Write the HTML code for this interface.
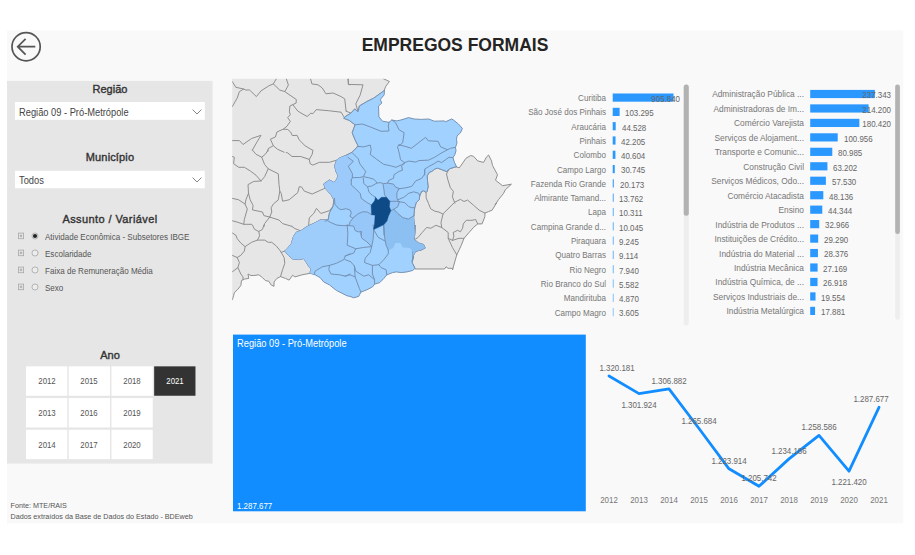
<!DOCTYPE html>
<html><head><meta charset="utf-8"><title>Empregos Formais</title><style>
*{box-sizing:border-box;margin:0;padding:0}
html,body{width:915px;height:555px;overflow:hidden;background:#fff}
body{font-family:"Liberation Sans",sans-serif;position:relative;color:#666}
.abs{position:absolute}
.ttl{position:absolute;left:7px;width:206px;text-align:center;font-weight:400;color:#333;font-size:11px;line-height:14px;white-space:nowrap;-webkit-text-stroke:.38px #333}
.dd{position:absolute;left:15px;width:190px;height:18px;font-size:10px;color:#444;padding-left:4px;white-space:nowrap}
.dd span{display:inline-block;transform:scaleX(.93);transform-origin:left center}
.row{position:absolute;left:45px;font-size:9.2px;line-height:12px;color:#555;white-space:nowrap;transform:scaleX(.876);transform-origin:left center}
.cell{position:absolute;width:41.3px;height:29.4px;font-size:9px;line-height:31.6px;text-align:center;color:#555}
.cell span{display:inline-block;transform:scaleX(.87)}
.cell.sel{color:#fff}
.lbl{position:absolute;text-align:right;font-size:8.8px;line-height:10px;color:#777;white-space:nowrap;transform:scaleX(.92);transform-origin:right center}
.val{position:absolute;font-size:8.8px;line-height:10px;color:#666;white-space:nowrap;transform:scaleX(.9);transform-origin:left center}
.val.r{transform-origin:right center}
.val.c{transform-origin:center center}
.foot{position:absolute;left:10.6px;font-size:7.2px;line-height:10px;color:#555;white-space:nowrap}
</style></head><body>
<svg class="abs" style="left:0;top:0" width="915" height="555" viewBox="0 0 915 555"><rect x="7.00" y="30.40" width="896.40" height="492.90" fill="#f9f9f9"/><rect x="7.00" y="80.90" width="205.60" height="382.70" fill="#e6e6e6"/><rect x="15.00" y="102.00" width="189.80" height="17.80" fill="#fff"/><rect x="15.00" y="170.80" width="189.80" height="17.50" fill="#fff"/><rect x="26.00" y="366.35" width="41.30" height="29.40" fill="#fff"/><rect x="68.72" y="366.35" width="41.30" height="29.40" fill="#fff"/><rect x="111.44" y="366.35" width="41.30" height="29.40" fill="#fff"/><rect x="154.16" y="366.35" width="41.30" height="29.40" fill="#333333"/><rect x="26.00" y="398.05" width="41.30" height="29.40" fill="#fff"/><rect x="68.72" y="398.05" width="41.30" height="29.40" fill="#fff"/><rect x="111.44" y="398.05" width="41.30" height="29.40" fill="#fff"/><rect x="26.00" y="429.75" width="41.30" height="29.40" fill="#fff"/><rect x="68.72" y="429.75" width="41.30" height="29.40" fill="#fff"/><rect x="111.44" y="429.75" width="41.30" height="29.40" fill="#fff"/><rect x="612.70" y="93.50" width="60.80" height="8.20" fill="#2b98ff"/><rect x="612.70" y="107.80" width="6.93" height="8.20" fill="#2b98ff"/><rect x="612.70" y="122.10" width="2.99" height="8.20" fill="#2b98ff"/><rect x="612.70" y="136.40" width="2.83" height="8.20" fill="#2b98ff"/><rect x="612.70" y="150.70" width="2.73" height="8.20" fill="#2b98ff"/><rect x="612.70" y="165.00" width="2.06" height="8.20" fill="#2b98ff"/><rect x="612.70" y="179.30" width="1.20" height="8.20" fill="#41a3fe"/><rect x="612.70" y="193.60" width="1.20" height="8.20" fill="#65b3fd"/><rect x="612.70" y="207.90" width="1.20" height="8.20" fill="#78bcfd"/><rect x="612.70" y="222.20" width="1.20" height="8.20" fill="#79bdfd"/><rect x="612.70" y="236.50" width="1.20" height="8.20" fill="#7ebffd"/><rect x="612.70" y="250.80" width="1.20" height="8.20" fill="#7ebffd"/><rect x="612.70" y="265.10" width="1.20" height="8.20" fill="#85c2fc"/><rect x="612.70" y="279.40" width="1.20" height="8.20" fill="#92c9fc"/><rect x="612.70" y="293.70" width="1.20" height="8.20" fill="#96cafc"/><rect x="612.70" y="308.00" width="1.20" height="8.20" fill="#9dcefc"/><rect x="683.70" y="84.60" width="5.10" height="241.00" fill="#eeeeee" rx="2.5"/><rect x="683.70" y="84.60" width="5.10" height="131.20" fill="#b2b2b2" rx="2.5"/><rect x="810.20" y="89.90" width="64.70" height="8.20" fill="#2b98ff"/><rect x="810.20" y="104.36" width="58.39" height="8.20" fill="#2b98ff"/><rect x="810.20" y="118.82" width="49.18" height="8.20" fill="#2b98ff"/><rect x="810.20" y="133.28" width="27.52" height="8.20" fill="#2b98ff"/><rect x="810.20" y="147.74" width="22.08" height="8.20" fill="#2b98ff"/><rect x="810.20" y="162.20" width="17.23" height="8.20" fill="#2b98ff"/><rect x="810.20" y="176.66" width="15.68" height="8.20" fill="#2b98ff"/><rect x="810.20" y="191.12" width="13.12" height="8.20" fill="#2b98ff"/><rect x="810.20" y="205.58" width="12.09" height="8.20" fill="#2b98ff"/><rect x="810.20" y="220.04" width="8.99" height="8.20" fill="#2b98ff"/><rect x="810.20" y="234.50" width="7.98" height="8.20" fill="#2b98ff"/><rect x="810.20" y="248.96" width="7.74" height="8.20" fill="#2b98ff"/><rect x="810.20" y="263.42" width="7.41" height="8.20" fill="#2b98ff"/><rect x="810.20" y="277.88" width="7.34" height="8.20" fill="#2b98ff"/><rect x="810.20" y="292.34" width="5.33" height="8.20" fill="#2b98ff"/><rect x="810.20" y="306.80" width="4.87" height="8.20" fill="#2b98ff"/><rect x="895.20" y="84.40" width="4.70" height="235.40" fill="#eeeeee" rx="2.3"/><rect x="895.20" y="84.40" width="4.70" height="149.60" fill="#b2b2b2" rx="2.3"/><rect x="233.00" y="334.60" width="352.80" height="176.70" fill="#118dff"/></svg>
<svg class="abs" style="left:8px;top:28px" width="36" height="36" viewBox="0 0 36 36"><circle cx="18.1" cy="18.7" r="14.1" fill="none" stroke="#555" stroke-width="1.7"/><path d="M27.3 18.7H9.7M17.6 10.8L9.7 18.7L17.6 26.6" fill="none" stroke="#555" stroke-width="1.7"/></svg>
<div class="abs" style="left:255px;top:34px;width:400px;text-align:center;font-weight:700;font-size:17.5px;line-height:22px;color:#252423;white-space:nowrap">EMPREGOS FORMAIS</div>
<div class="ttl" style="top:81.9px">Região</div>
<div class="dd" style="top:102px;line-height:22.6px"><span>Região 09 - Pró-Metrópole</span></div>
<div class="ttl" style="top:149.8px;letter-spacing:.15px">Município</div>
<div class="dd" style="top:170.5px;line-height:20.8px"><span>Todos</span></div>
<svg class="abs" style="left:190.6px;top:107.8px" width="12" height="8" viewBox="0 0 12 8"><path d="M1.6 1.6L6 6L10.4 1.6" fill="none" stroke="#777" stroke-width="0.9"/></svg>
<svg class="abs" style="left:190.6px;top:176px" width="12" height="8" viewBox="0 0 12 8"><path d="M1.6 1.6L6 6L10.4 1.6" fill="none" stroke="#777" stroke-width="0.9"/></svg>
<div class="ttl" style="top:212px;letter-spacing:.41px">Assunto / Variável</div>
<svg class="abs" style="left:17px;top:232.2px" width="8" height="8" viewBox="0 0 8 8"><rect x="1.4" y="1.1" width="5.2" height="5.6" fill="none" stroke="#a8a8a8" stroke-width="0.8"/><path d="M2.7 3.9H5.3M4 2.6V5.2" stroke="#999" stroke-width="0.8"/></svg>
<svg class="abs" style="left:30px;top:231.2px" width="10" height="10" viewBox="0 0 10 10"><circle cx="5" cy="5" r="3.05" fill="#ececec" stroke="#a6a6a6" stroke-width="0.8"/><circle cx="5" cy="5" r="2.1" fill="#222"/></svg>
<div class="row" style="top:231.3px">Atividade Econômica - Subsetores IBGE</div>
<svg class="abs" style="left:17px;top:249.2px" width="8" height="8" viewBox="0 0 8 8"><rect x="1.4" y="1.1" width="5.2" height="5.6" fill="none" stroke="#a8a8a8" stroke-width="0.8"/><path d="M2.7 3.9H5.3M4 2.6V5.2" stroke="#999" stroke-width="0.8"/></svg>
<svg class="abs" style="left:30px;top:248.2px" width="10" height="10" viewBox="0 0 10 10"><circle cx="5" cy="5" r="3.05" fill="#ececec" stroke="#a6a6a6" stroke-width="0.8"/></svg>
<div class="row" style="top:248.3px">Escolaridade</div>
<svg class="abs" style="left:17px;top:266.2px" width="8" height="8" viewBox="0 0 8 8"><rect x="1.4" y="1.1" width="5.2" height="5.6" fill="none" stroke="#a8a8a8" stroke-width="0.8"/><path d="M2.7 3.9H5.3M4 2.6V5.2" stroke="#999" stroke-width="0.8"/></svg>
<svg class="abs" style="left:30px;top:265.2px" width="10" height="10" viewBox="0 0 10 10"><circle cx="5" cy="5" r="3.05" fill="#ececec" stroke="#a6a6a6" stroke-width="0.8"/></svg>
<div class="row" style="top:265.3px">Faixa de Remuneração Média</div>
<svg class="abs" style="left:17px;top:283.2px" width="8" height="8" viewBox="0 0 8 8"><rect x="1.4" y="1.1" width="5.2" height="5.6" fill="none" stroke="#a8a8a8" stroke-width="0.8"/><path d="M2.7 3.9H5.3M4 2.6V5.2" stroke="#999" stroke-width="0.8"/></svg>
<svg class="abs" style="left:30px;top:282.2px" width="10" height="10" viewBox="0 0 10 10"><circle cx="5" cy="5" r="3.05" fill="#ececec" stroke="#a6a6a6" stroke-width="0.8"/></svg>
<div class="row" style="top:282.3px">Sexo</div>
<div class="ttl" style="top:348px">Ano</div>
<div class="cell" style="left:26.00px;top:366.35px"><span>2012</span></div>
<div class="cell" style="left:68.72px;top:366.35px"><span>2015</span></div>
<div class="cell" style="left:111.44px;top:366.35px"><span>2018</span></div>
<div class="cell sel" style="left:154.16px;top:366.35px"><span>2021</span></div>
<div class="cell" style="left:26.00px;top:398.05px"><span>2013</span></div>
<div class="cell" style="left:68.72px;top:398.05px"><span>2016</span></div>
<div class="cell" style="left:111.44px;top:398.05px"><span>2019</span></div>
<div class="cell" style="left:26.00px;top:429.75px"><span>2014</span></div>
<div class="cell" style="left:68.72px;top:429.75px"><span>2017</span></div>
<div class="cell" style="left:111.44px;top:429.75px"><span>2020</span></div>
<div class="foot" style="top:500.6px">Fonte: MTE/RAIS</div>
<div class="foot" style="top:511.6px">Dados extraídos da Base de Dados do Estado - BDEweb</div>
<svg class="abs" style="left:0;top:0" width="915" height="555" viewBox="0 0 915 555">
<defs><clipPath id="mc"><rect x="232.2" y="78.7" width="290" height="230"/></clipPath></defs><g clip-path="url(#mc)" stroke-linejoin="round" stroke-linecap="round">
<polygon points="229.2,75.7 383.2,75.7 383.2,78.6 389.4,81.5 385.8,86.3 384.2,90.6 373.8,98.1 366.6,101.7 359.4,106.0 358.0,111.8 354.8,108.9 350.8,113.2 345.0,116.8 343.8,118.3 349.3,120.4 355.1,124.8 352.2,132.7 355.1,139.9 358.0,145.7 356.4,147.9 351.9,152.4 345.9,155.4 340.0,157.8 336.7,160.1 334.6,165.9 336.0,171.6 338.2,176.0 336.0,180.3 333.9,182.5 329.5,180.0 323.8,183.9 325.2,188.2 331.0,194.7 333.9,199.8 333.1,206.3 329.5,212.7 328.1,220.0 320.1,220.0 315.1,222.8 308.6,225.7 305.0,227.9 300.7,230.8 296.3,232.2 293.5,236.5 291.3,243.8 287.7,248.1 284.8,251.0 288.4,255.3 292.7,258.9 299.2,259.6 303.6,258.5 306.4,262.5 308.6,266.1 310.8,268.3 310.1,273.3 302.1,274.8 294.9,276.9 292.7,275.2 289.1,280.1 285.5,278.4 280.5,276.6 276.9,278.4 274.0,282.0 274.0,286.3 271.1,284.9 268.9,281.3 265.3,280.5 262.5,277.6 258.8,274.8 253.8,275.5 250.9,275.5 248.0,274.0 248.8,278.4 244.4,279.1 241.5,280.5 240.8,285.6 237.9,289.2 234.3,292.8 233.6,295.7 232.2,300.0 229.2,300.5" fill="#e6e6e6" stroke="#8f8f8f" stroke-width="1"/>
<polygon points="456.4,166.9 459.3,167.8 462.8,162.9 465.8,158.4 470.7,155.5 473.7,156.4 477.7,160.9 483.6,162.4 486.6,156.9 488.6,155.0 491.5,160.9 492.5,165.4 497.5,174.8 495.5,180.2 502.5,185.7 511.4,184.2 505.4,189.7 503.4,193.6 498.5,199.6 495.0,205.0 496.5,203.0 492.1,210.2 488.5,211.6 484.9,213.1 484.9,216.7 482.0,223.9 477.7,223.9 473.4,227.5 469.1,232.5 464.0,238.3 461.2,245.5 456.8,254.8 454.7,262.0 452.5,270.0 452.5,268.3 448.1,268.3 446.0,266.8 444.5,269.0 415.0,269.0 415.0,268.3 412.1,262.5 413.5,256.7 412.8,251.7 420.0,250.2 425.1,248.1 423.6,244.5 418.6,243.0 414.2,239.4 415.0,232.2 415.0,225.0 412.2,262.0 412.9,256.3 415.8,251.2 421.5,249.8 425.1,247.6 422.2,244.8 416.5,242.6 414.3,239.7 414.3,231.8 414.3,224.6 413.6,217.4 414.7,207.7 416.2,202.7 419.2,199.7 419.7,195.8 421.7,191.3 423.7,190.8 426.1,192.3 427.1,191.3 428.1,186.9 427.6,181.9 427.1,175.9 429.6,172.0 431.7,171.5 434.7,169.1 437.6,168.1 441.6,169.6 446.5,171.5 450.0,168.6 456.5,166.6" fill="#e6e6e6" stroke="#8f8f8f" stroke-width="1"/>
<g fill="none" stroke="#8f8f8f" stroke-width="1">
<polyline points="232.2,81.5 235.8,87.3 243.7,89.0 245.9,90.1 249.5,89.9 256.4,96.6 261.0,90.9 268.9,85.8 273.3,83.9 276.4,78.6"/>
<polyline points="243.7,89.0 239.4,91.6 237.2,98.1 232.2,106.7"/>
<polyline points="273.3,83.9 279.8,90.1 284.8,91.6 288.4,85.1 286.3,78.6"/>
<polyline points="284.8,91.6 292.0,96.6 296.3,99.5 296.1,103.1 292.7,104.6 289.9,106.0 289.4,111.8 290.3,114.7 287.7,117.6 290.3,121.4 287.0,126.2 283.4,129.1 276.9,132.0 275.4,137.0 270.4,139.2 273.3,145.7 277.6,149.3 284.1,152.2"/>
<polyline points="292.7,104.6 297.8,111.1 302.1,113.7 307.2,116.5 310.8,113.2 312.9,113.7 316.3,109.6 329.5,110.8 341.1,112.2 343.9,116.8"/>
<polyline points="310.5,78.6 311.9,83.9 318.0,84.8 322.3,88.0 325.9,93.8 333.1,93.0 341.1,96.6 344.7,98.8 346.1,111.1"/>
<polyline points="346.1,111.1 350.0,112.8 350.8,113.2"/>
<polyline points="283.4,129.1 287.7,129.5 290.6,132.0 292.3,135.6 297.1,135.3 299.2,139.9 305.0,145.7 312.2,150.0"/>
<polyline points="232.2,140.6 239.4,140.6 243.0,144.5 251.6,138.5 261.0,135.3 257.4,141.3 252.4,150.0"/>
<polyline points="273.3,145.7 268.2,148.6 267.8,151.4"/>
<polyline points="348.3,78.6 348.3,84.4 350.0,84.8"/>
<polyline points="347.9,78.6 348.6,84.4 363.0,84.8 360.1,95.2 355.8,103.8 358.0,111.8"/>
<polyline points="252.4,150.0 256.0,154.3 261.7,157.2 265.3,154.3 268.2,150.0"/>
<polyline points="261.7,157.2 264.6,164.4 268.2,168.8 278.3,173.8 279.0,184.6 279.8,191.1 278.3,199.8 273.3,204.1 271.1,207.7 271.8,212.0 269.7,217.1"/>
<polyline points="268.2,168.8 264.6,176.7 261.0,181.0 253.8,181.4 248.0,184.6 248.5,193.3 250.2,199.8 253.1,205.5 252.4,209.9 262.5,212.0 263.9,215.6 269.7,217.1"/>
<polyline points="232.2,156.5 234.3,157.2 233.6,163.7 238.7,167.3 244.4,167.3 250.2,170.9 256.0,175.2 261.0,181.0"/>
<polyline points="248.5,193.3 245.9,199.8 245.1,204.1 247.3,209.1 244.4,219.2 243.7,224.3"/>
<polyline points="232.2,198.3 238.7,199.8 245.1,204.1"/>
<polyline points="232.2,220.7 237.2,222.1 243.7,224.3 251.6,224.3"/>
<polyline points="269.7,217.1 264.6,223.6 264.0,226.4"/>
<polyline points="269.7,217.1 279.0,220.0 282.6,223.6 292.0,226.4"/>
<polyline points="279.8,191.1 281.2,193.3 282.6,201.2 289.1,199.8 297.8,192.6 299.2,186.8 301.4,186.8 304.3,191.1 312.2,194.0 320.1,190.4 325.2,188.2"/>
<polyline points="286.3,152.6 287.7,152.9 292.0,156.5 300.7,156.5 309.3,159.4 310.1,163.7 312.9,165.1 319.4,162.3 329.5,162.3 336.7,160.1"/>
<polyline points="309.3,159.4 312.2,154.3 312.9,150.0"/>
<polyline points="308.6,225.7 309.3,217.8 313.7,213.5 316.5,208.4 320.9,213.5 329.5,210.6 333.1,206.3"/>
<polyline points="252.4,225.0 254.5,229.3 258.8,231.5 262.5,229.3 263.9,225.0"/>
<polyline points="258.8,231.5 259.6,235.8 257.4,240.1 251.6,242.3 245.1,246.6 240.8,243.0 237.2,238.7 235.8,235.1 232.2,232.9"/>
<polyline points="257.4,240.1 264.6,240.1 268.2,242.3 271.8,242.3 276.2,245.9 279.8,250.2 281.2,252.4 284.8,251.0"/>
<polyline points="281.2,252.4 284.1,257.5 284.8,263.2 282.6,269.7 280.5,276.6"/>
<polyline points="245.1,246.6 244.4,251.0 240.8,255.3 237.2,257.5 232.2,255.3"/>
<polyline points="237.2,257.5 239.4,262.5 237.9,267.6 232.2,271.9"/>
<polyline points="237.9,267.6 240.8,274.0 243.0,276.9 243.0,279.8"/>
<polyline points="292.0,226.4 294.9,228.6 300.7,230.8"/>
<polyline points="454.7,202.2 460.4,199.4 464.0,201.5 467.6,200.1 473.4,205.1 479.2,210.2 484.9,213.1"/>
<polyline points="454.7,202.2 443.1,213.8 441.0,222.4 441.7,227.5 448.2,232.5 448.2,238.3 452.5,240.4 459.0,238.3 464.0,238.3"/>
<polyline points="448.2,238.3 452.5,247.6 456.8,254.8"/>
<polyline points="452.5,240.4 453.9,236.1 453.2,232.5 457.6,230.3 460.4,231.8 462.6,228.2 463.3,223.9 466.2,220.3 472.0,220.3 475.6,219.5 477.7,223.9"/>
<polyline points="441.7,227.5 435.9,225.3 430.9,228.2 426.6,227.5 422.2,232.5 417.9,237.6 414.3,239.7"/>
<polyline points="448.4,170.0 446.5,174.0 447.9,179.9 450.4,187.8 453.4,191.3 452.4,196.8 454.9,203.2"/>
<polyline points="426.1,192.3 426.1,197.8 428.6,203.7 430.6,208.7 434.6,211.1 439.0,212.1 443.0,214.1"/>
<polyline points="446.5,171.5 448.4,170.0"/>
</g>
<polygon points="384.2,90.6 373.8,98.1 366.6,101.7 359.4,106.0 358.0,111.8 354.8,108.9 350.8,113.2 345.0,116.8 343.8,118.3 349.3,120.4 355.1,124.8 352.2,132.7 355.1,139.9 358.0,145.7 356.4,147.9 351.9,152.4 345.9,155.4 340.0,157.8 336.7,160.1 334.6,165.9 336.0,171.6 338.2,176.0 336.0,180.3 333.9,182.5 329.5,180.0 323.8,183.9 325.2,188.2 331.0,194.7 333.9,199.8 333.1,206.3 329.5,212.7 328.1,220.0 320.1,220.0 315.1,222.8 308.6,225.7 305.0,227.9 300.7,230.8 296.3,232.2 293.5,236.5 291.3,243.8 287.7,248.1 284.8,251.0 288.4,255.3 292.7,258.9 299.2,259.6 303.6,258.5 306.4,262.5 308.6,266.1 310.8,268.3 310.1,273.3 315.1,274.8 320.1,277.6 323.8,282.0 329.5,284.9 333.9,288.5 336.7,290.6 341.1,292.8 346.8,295.7 350.0,296.4 353.7,297.8 358.7,296.4 360.9,292.1 366.6,289.9 372.4,287.0 374.6,284.1 379.6,282.7 383.9,278.4 386.8,274.8 392.6,272.6 396.2,271.9 401.3,272.6 407.0,271.9 412.8,270.4 415.0,268.3 412.1,262.5 413.5,256.7 412.8,251.7 420.0,250.2 425.1,248.1 423.6,244.5 418.6,243.0 414.2,239.4 415.0,232.2 415.0,225.0 412.2,262.0 412.9,256.3 415.8,251.2 421.5,249.8 425.1,247.6 422.2,244.8 416.5,242.6 414.3,239.7 414.3,231.8 414.3,224.6 413.6,217.4 414.7,207.7 416.2,202.7 419.2,199.7 419.7,195.8 421.7,191.3 423.7,190.8 426.1,192.3 427.1,191.3 428.1,186.9 427.6,181.9 427.1,175.9 429.6,172.0 431.7,171.5 434.7,169.1 437.6,168.1 441.6,169.6 446.5,171.5 450.0,168.6 456.5,166.6 454.5,162.6 453.0,157.7 455.0,154.2 456.0,150.7 455.5,147.3 457.0,142.8 456.5,139.8 457.0,135.9 460.4,132.9 462.4,128.4 458.4,124.0 453.5,120.0 451.7,119.0 445.2,121.9 444.5,120.9 434.4,121.2 428.7,119.0 421.4,119.4 414.2,119.0 408.5,117.6 402.0,119.7 396.9,120.9 391.9,120.0 389.0,122.3 382.5,121.2 378.9,116.8 378.5,106.0 381.8,103.1 380.3,99.5 383.9,95.2" fill="#a1d1fe" stroke="#7592b4" stroke-width="1"/>
<polygon points="390.9,210.7 388.4,216.2 387.0,221.1 384.0,224.6 383.7,226.6 383.9,227.2 384.7,238.0 386.1,245.2 388.3,250.2 393.3,248.1 395.5,243.0 400.5,243.0 402.7,247.4 409.9,248.1 412.8,251.7 420.0,250.2 425.1,248.1 423.6,244.5 418.6,243.0 414.2,239.4 415.0,232.2 415.0,225.0 412.2,262.0 412.9,256.3 415.8,251.2 421.5,249.8 425.1,247.6 422.2,244.8 416.5,242.6 414.3,239.7 414.2,215.6 408.3,219.1 402.8,217.6 397.9,213.6 393.9,209.2 390.9,210.6" fill="#8dc0f2"/>
<polygon points="328.1,220.0 320.1,220.0 315.1,222.8 308.6,225.7 305.0,227.9 300.7,230.8 296.3,232.2 293.5,236.5 291.3,243.8 287.7,248.1 284.8,251.0 288.4,255.3 292.7,258.9 299.2,259.6 303.6,258.5 306.4,262.5 308.6,266.1 310.8,268.3 310.1,273.3 314.4,274.0 315.1,271.2 322.3,266.8 329.5,265.4 336.7,263.2 343.9,259.6 345.4,256.0 350.0,253.8 345.0,256.0 353.7,253.1 355.8,248.8 347.2,245.2 347.9,233.7 347.2,225.0 348.8,225.6 342.8,225.6 336.9,225.1 330.9,222.6 327.5,220.6 325.0,221.1" fill="#9ecdfc"/>
<polygon points="371.6,214.7 367.6,212.2 363.2,211.7 358.2,213.7 352.8,218.2 349.8,216.2 351.3,213.2 350.3,210.2 346.3,208.7 340.9,209.7 338.4,208.3 334.9,204.3 334.4,198.3 333.9,199.8 331.0,194.7 325.2,188.2 323.8,183.9 329.5,180.0 333.9,182.5 336.0,180.3 338.2,176.0 336.0,171.6 334.6,165.9 336.7,160.1 340.0,157.8 345.9,155.4 347.9,157.3 353.4,161.3 348.4,166.3 352.4,173.7 352.4,177.7 351.1,180.1 351.3,180.0 351.3,185.0 355.7,188.9 360.2,193.4 361.2,198.3 366.6,202.3 371.1,204.8" fill="#9bcafb"/>
<polygon points="371.6,214.7 367.6,212.2 363.2,211.7 358.2,213.7 352.8,218.2 350.3,221.6 348.8,225.6 353.7,226.1 355.2,230.6 358.7,232.0 361.2,231.5 361.6,238.0 366.6,241.6 371.7,246.6 373.1,239.4 373.8,230.0 373.6,229.6 374.6,222.6 375.0,215.2" fill="#97c7f8"/>
<polygon points="383.0,184.0 387.6,183.1 393.5,184.1 395.5,187.1 399.5,188.6 396.9,192.8 396.9,197.8 397.9,200.7 396.4,201.3 389.9,201.3 386.4,197.3 384.5,194.9 384.0,189.9" fill="#97c7f8"/>
<polygon points="389.9,201.3 396.4,201.3 399.4,201.7 397.9,206.7 393.9,209.2 390.9,210.6 389.4,206.8" fill="#97c7f8"/>
<g fill="none" stroke="#7592b4" stroke-width="1">
<polyline points="355.1,124.8 362.3,124.0 370.2,126.9 381.1,131.3 389.0,131.0 388.3,126.2 389.0,122.3"/>
<polyline points="391.9,120.0 395.5,122.6 399.1,129.8 404.1,132.7 402.7,142.8 399.1,145.7"/>
<polyline points="357.8,146.4 363.8,146.9 370.2,145.0 371.2,149.4 370.2,154.4 376.7,159.3 383.6,164.3 390.6,165.8 396.0,167.3 401.5,164.8 404.4,163.3"/>
<polyline points="351.9,152.4 358.3,158.8 359.8,163.8 365.8,171.7 363.3,176.7 368.7,177.7 373.7,179.2 376.2,181.6 376.7,183.1"/>
<polyline points="347.9,157.3 353.4,161.3 348.4,166.3 352.4,173.7 352.4,177.7 359.8,177.5 363.3,176.7"/>
<polyline points="352.4,177.7 351.1,180.1"/>
<polyline points="363.3,178.2 363.8,183.6 367.3,186.6 371.7,186.1 376.7,183.1 380.1,182.6 383.6,183.6 387.6,183.1 393.5,184.1 395.5,187.1 399.5,188.6"/>
<polyline points="387.6,183.1 388.6,180.6 393.5,178.2 394.0,174.7 398.5,171.7 402.5,170.2 401.5,165.8 404.4,163.3"/>
<polyline points="399.0,144.8 404.9,146.3 411.4,148.3 417.8,143.3 425.7,137.3 428.2,140.8 438.1,141.3 440.6,146.8 447.5,149.7"/>
<polyline points="399.0,144.8 397.5,146.8 399.5,154.2 400.5,159.7 404.4,162.6"/>
<polyline points="404.4,162.6 408.9,161.1 415.8,162.1 418.8,160.6 428.7,160.1 434.7,157.2 441.1,153.2 447.5,149.7 450.5,148.3 455.5,147.3"/>
<polyline points="424.7,175.0 424.7,169.1 428.7,166.6 434.2,163.6 438.1,161.1 441.6,162.6 445.6,159.7 449.0,157.2 453.0,157.7"/>
<polyline points="398.9,188.8 405.8,187.8 411.8,186.4 415.7,180.9 421.7,178.4 424.7,174.0 424.7,170.0"/>
<polyline points="398.9,188.8 396.9,192.8 396.9,197.8 397.9,200.7 399.4,201.7"/>
<polyline points="397.9,199.7 403.8,197.3 408.8,193.3 413.7,191.8 418.7,193.3 419.7,195.8"/>
<polyline points="399.4,201.7 404.8,202.7 408.8,206.7 411.8,207.7 414.7,207.7"/>
<polyline points="399.4,201.7 397.9,206.7 393.9,209.2 390.9,210.6"/>
<polyline points="393.9,209.2 397.9,213.6 402.8,217.6 408.3,219.1 414.2,215.6"/>
<polyline points="351.3,180.0 351.3,185.0 355.7,188.9 360.2,193.4 361.2,198.3 366.6,202.3 371.1,204.8"/>
<polyline points="367.6,186.9 369.1,192.4 372.6,195.4 375.6,197.3"/>
<polyline points="383.0,184.0 384.0,189.9 384.5,194.9 386.5,197.3"/>
<polyline points="389.9,201.3 396.4,201.3 399.3,201.6"/>
<polyline points="334.4,198.3 334.9,204.3 338.4,208.3 340.9,209.7 346.3,208.7 350.3,210.2 351.3,213.2 349.8,216.2 352.8,218.2 358.2,213.7 363.2,211.7 367.6,212.2 371.6,214.7"/>
<polyline points="352.8,218.2 350.3,221.6 348.8,225.6 347.3,225.1"/>
<polyline points="348.8,225.6 353.7,226.1 355.2,230.6 358.7,232.0 361.2,231.5 361.2,235.0"/>
<polyline points="325.0,221.1 327.5,220.6 330.9,222.6 336.9,225.1 342.8,225.6 348.8,225.6"/>
<polyline points="383.5,225.1 384.0,235.0"/>
<polyline points="350.0,253.8 345.4,256.0 343.9,259.6 336.7,263.2 329.5,265.4 322.3,266.8 315.1,271.2 314.4,274.0"/>
<polyline points="329.5,265.4 328.8,269.7 331.0,274.0 339.6,274.8 345.4,276.2 350.0,274.0"/>
<polyline points="347.2,225.0 347.9,233.7 347.2,245.2 355.8,248.8 363.8,247.4 371.7,246.6 373.1,239.4 373.8,230.0 373.1,225.0"/>
<polyline points="361.2,231.9 360.9,232.9 361.6,238.0 366.6,241.6 371.7,246.6"/>
<polyline points="373.8,230.0 378.2,237.3 384.7,240.9"/>
<polyline points="383.9,225.0 384.7,238.0 386.1,245.2 388.3,250.2"/>
<polyline points="355.8,248.8 353.7,253.1 345.0,256.0"/>
<polyline points="371.7,246.6 370.2,252.4 365.2,258.2 364.5,262.5 372.4,265.4 378.9,264.7 383.9,259.6 388.3,253.8 388.3,250.2"/>
<polyline points="378.9,264.7 381.1,267.6 386.1,269.7 386.8,274.8"/>
<polyline points="372.4,265.4 372.4,274.0 374.6,279.8 374.6,284.1"/>
<polyline points="345.0,259.6 350.8,261.8 354.4,266.1 355.8,271.2 363.8,276.2 368.8,274.8 374.6,279.8"/>
<polyline points="354.4,266.1 355.1,276.9 359.4,288.5 360.9,292.1"/>
<polyline points="345.0,276.2 350.0,274.8 355.1,276.9"/>
</g>
<polygon points="375.6,197.3 378.0,200.3 381.5,197.3 386.5,197.3 389.9,201.3 389.4,206.8 390.9,210.7 388.4,216.2 387.0,221.1 384.0,224.6 379.0,227.1 373.6,229.6 374.6,222.6 375.1,215.2 371.6,214.7 371.1,205.3 374.6,200.8" fill="#0d4a86" stroke="#0d4a86" stroke-width="0.4"/>
</g></svg>
<div class="lbl" style="left:456px;width:150px;top:93.0px">Curitiba</div>
<div class="val r" style="left:580px;width:100px;text-align:right;top:93.9px">905.840</div>
<div class="lbl" style="left:456px;width:150px;top:107.3px">São José dos Pinhais</div>
<div class="val" style="left:625.4px;top:108.2px">103.295</div>
<div class="lbl" style="left:456px;width:150px;top:121.6px">Araucária</div>
<div class="val" style="left:621.5px;top:122.5px">44.528</div>
<div class="lbl" style="left:456px;width:150px;top:135.9px">Pinhais</div>
<div class="val" style="left:621.3px;top:136.8px">42.205</div>
<div class="lbl" style="left:456px;width:150px;top:150.2px">Colombo</div>
<div class="val" style="left:621.2px;top:151.1px">40.604</div>
<div class="lbl" style="left:456px;width:150px;top:164.5px">Campo Largo</div>
<div class="val" style="left:620.6px;top:165.4px">30.745</div>
<div class="lbl" style="left:456px;width:150px;top:178.8px">Fazenda Rio Grande</div>
<div class="val" style="left:619.9px;top:179.7px">20.173</div>
<div class="lbl" style="left:456px;width:150px;top:193.1px">Almirante Tamand...</div>
<div class="val" style="left:619.4px;top:194.0px">13.762</div>
<div class="lbl" style="left:456px;width:150px;top:207.4px">Lapa</div>
<div class="val" style="left:619.4px;top:208.3px">10.311</div>
<div class="lbl" style="left:456px;width:150px;top:221.7px">Campina Grande d...</div>
<div class="val" style="left:619.4px;top:222.6px">10.045</div>
<div class="lbl" style="left:456px;width:150px;top:236.0px">Piraquara</div>
<div class="val" style="left:619.4px;top:236.9px">9.245</div>
<div class="lbl" style="left:456px;width:150px;top:250.3px">Quatro Barras</div>
<div class="val" style="left:619.4px;top:251.2px">9.114</div>
<div class="lbl" style="left:456px;width:150px;top:264.6px">Rio Negro</div>
<div class="val" style="left:619.4px;top:265.5px">7.940</div>
<div class="lbl" style="left:456px;width:150px;top:278.9px">Rio Branco do Sul</div>
<div class="val" style="left:619.4px;top:279.8px">5.582</div>
<div class="lbl" style="left:456px;width:150px;top:293.2px">Mandirituba</div>
<div class="val" style="left:619.4px;top:294.1px">4.870</div>
<div class="lbl" style="left:456px;width:150px;top:307.5px">Campo Magro</div>
<div class="val" style="left:619.4px;top:308.4px">3.605</div>
<div class="lbl" style="left:654px;width:150px;top:89.4px;font-size:9.1px;transform:scaleX(.918)">Administração Pública ...</div>
<div class="val r" style="left:791px;width:100px;text-align:right;top:90.3px">237.343</div>
<div class="lbl" style="left:654px;width:150px;top:103.9px;font-size:9.1px;transform:scaleX(.918)">Administradoras de Im...</div>
<div class="val r" style="left:791px;width:100px;text-align:right;top:104.8px">214.200</div>
<div class="lbl" style="left:654px;width:150px;top:118.3px;font-size:9.1px;transform:scaleX(.918)">Comércio Varejista</div>
<div class="val r" style="left:791px;width:100px;text-align:right;top:119.2px">180.420</div>
<div class="lbl" style="left:654px;width:150px;top:132.8px;font-size:9.1px;transform:scaleX(.918)">Serviços de Alojament...</div>
<div class="val" style="left:843.5px;top:133.7px">100.956</div>
<div class="lbl" style="left:654px;width:150px;top:147.2px;font-size:9.1px;transform:scaleX(.918)">Transporte e Comunic...</div>
<div class="val" style="left:838.1px;top:148.1px">80.985</div>
<div class="lbl" style="left:654px;width:150px;top:161.7px;font-size:9.1px;transform:scaleX(.918)">Construção Civil</div>
<div class="val" style="left:833.2px;top:162.6px">63.202</div>
<div class="lbl" style="left:654px;width:150px;top:176.2px;font-size:9.1px;transform:scaleX(.918)">Serviços Médicos, Odo...</div>
<div class="val" style="left:831.7px;top:177.1px">57.530</div>
<div class="lbl" style="left:654px;width:150px;top:190.6px;font-size:9.1px;transform:scaleX(.918)">Comércio Atacadista</div>
<div class="val" style="left:829.1px;top:191.5px">48.136</div>
<div class="lbl" style="left:654px;width:150px;top:205.1px;font-size:9.1px;transform:scaleX(.918)">Ensino</div>
<div class="val" style="left:828.1px;top:206.0px">44.344</div>
<div class="lbl" style="left:654px;width:150px;top:219.5px;font-size:9.1px;transform:scaleX(.918)">Indústria de Produtos ...</div>
<div class="val" style="left:825.0px;top:220.4px">32.966</div>
<div class="lbl" style="left:654px;width:150px;top:234.0px;font-size:9.1px;transform:scaleX(.918)">Instituições de Crédito...</div>
<div class="val" style="left:824.0px;top:234.9px">29.290</div>
<div class="lbl" style="left:654px;width:150px;top:248.5px;font-size:9.1px;transform:scaleX(.918)">Indústria do Material ...</div>
<div class="val" style="left:823.7px;top:249.4px">28.376</div>
<div class="lbl" style="left:654px;width:150px;top:262.9px;font-size:9.1px;transform:scaleX(.918)">Indústria Mecânica</div>
<div class="val" style="left:823.4px;top:263.8px">27.169</div>
<div class="lbl" style="left:654px;width:150px;top:277.4px;font-size:9.1px;transform:scaleX(.918)">Indústria Química, de ...</div>
<div class="val" style="left:823.3px;top:278.3px">26.918</div>
<div class="lbl" style="left:654px;width:150px;top:291.8px;font-size:9.1px;transform:scaleX(.918)">Serviços Industriais de...</div>
<div class="val" style="left:821.3px;top:292.7px">19.554</div>
<div class="lbl" style="left:654px;width:150px;top:306.3px;font-size:9.1px;transform:scaleX(.918)">Indústria Metalúrgica</div>
<div class="val" style="left:820.9px;top:307.2px">17.881</div>
<div class="abs" style="left:236.8px;top:338px;font-size:10px;line-height:12px;color:#fff;white-space:nowrap;transform:scaleX(.93);transform-origin:left center">Região 09 - Pró-Metrópole</div>
<div class="abs" style="left:236.8px;top:500.5px;font-size:8.8px;line-height:10px;color:#fff;white-space:nowrap;transform:scaleX(.9);transform-origin:left center">1.287.677</div>
<svg class="abs" style="left:0;top:0" width="915" height="555" viewBox="0 0 915 555"><polyline points="609.0,376.0 639.0,393.6 669.0,388.8 699.0,428.5 729.0,468.8 759.0,486.3 789.0,458.9 819.0,435.4 849.0,471.2 879.0,407.3" fill="none" stroke="#118dff" stroke-width="2.8" stroke-linejoin="round" stroke-linecap="round"/></svg>
<div class="val c" style="left:587.0px;width:60px;text-align:center;top:362.6px;color:#666">1.320.181</div>
<div class="val c" style="left:609.0px;width:60px;text-align:center;top:399.7px;color:#666">1.301.924</div>
<div class="val c" style="left:639.0px;width:60px;text-align:center;top:375.6px;color:#666">1.306.882</div>
<div class="val c" style="left:669.0px;width:60px;text-align:center;top:415.5px;color:#666">1.265.684</div>
<div class="val c" style="left:699.0px;width:60px;text-align:center;top:455.7px;color:#666">1.223.914</div>
<div class="val c" style="left:729.0px;width:60px;text-align:center;top:472.5px;color:#666">1.205.742</div>
<div class="val c" style="left:759.0px;width:60px;text-align:center;top:445.9px;color:#666">1.234.186</div>
<div class="val c" style="left:789.0px;width:60px;text-align:center;top:422.0px;color:#666">1.258.586</div>
<div class="val c" style="left:819.0px;width:60px;text-align:center;top:476.8px;color:#666">1.221.420</div>
<div class="val c" style="left:840.6px;width:60px;text-align:center;top:394.1px;color:#666">1.287.677</div>
<div class="val c" style="left:579px;width:60px;text-align:center;top:494.8px;color:#777">2012</div>
<div class="val c" style="left:609px;width:60px;text-align:center;top:494.8px;color:#777">2013</div>
<div class="val c" style="left:639px;width:60px;text-align:center;top:494.8px;color:#777">2014</div>
<div class="val c" style="left:669px;width:60px;text-align:center;top:494.8px;color:#777">2015</div>
<div class="val c" style="left:699px;width:60px;text-align:center;top:494.8px;color:#777">2016</div>
<div class="val c" style="left:729px;width:60px;text-align:center;top:494.8px;color:#777">2017</div>
<div class="val c" style="left:759px;width:60px;text-align:center;top:494.8px;color:#777">2018</div>
<div class="val c" style="left:789px;width:60px;text-align:center;top:494.8px;color:#777">2019</div>
<div class="val c" style="left:819px;width:60px;text-align:center;top:494.8px;color:#777">2020</div>
<div class="val c" style="left:849px;width:60px;text-align:center;top:494.8px;color:#777">2021</div>
</body></html>
